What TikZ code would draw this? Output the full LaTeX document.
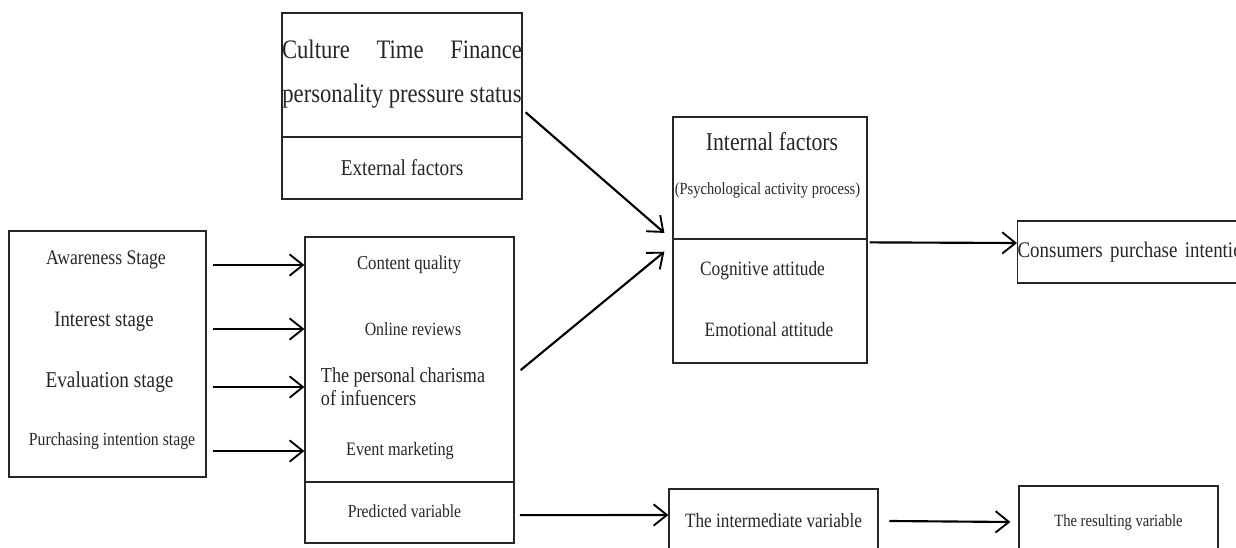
\documentclass[tikz,border=0pt]{standalone}
\usepackage{fontspec}
\setmainfont[FakeStretch=0.85]{Liberation Serif}
\usetikzlibrary{arrows.meta}

\begin{document}
\begin{tikzpicture}[
    x=0.75pt, y=-0.75pt,
    box/.style={draw=black!85, line width=0.9pt, inner sep=0pt},
    lbl/.style={inner sep=0pt, text=black!85},
    arr/.style={line width=1.6pt, -{Straight Barb[length=10pt,width=16pt,line width=1.4pt]}},
]
    \useasboundingbox (0,0) rectangle (1236,548);
    \clip (0,0) rectangle (1236,548);

    % external factors
    \node[box, minimum width=180pt, minimum height=93pt] (ext) at (402,75) {};
    \node[box, minimum width=180pt, minimum height=46.5pt, font=\fontsize{17}{20}\selectfont, text=black!85] (extname) at (402,168) {External factors};
    \node[lbl, align=center, font=\fontsize{20}{33}\selectfont] (extitems) at (402,74)
        {\makebox[180pt]{Culture\hfill Time\hfill Finance}\\personality pressure status};

    % stages
    \node[box, minimum width=147.75pt, minimum height=184.5pt] (stages) at (107.5,354) {};
    \node[lbl, font=\fontsize{15.6}{18}\selectfont] (aware) at (106,260) {Awareness Stage};
    \node[lbl, font=\fontsize{16.5}{19}\selectfont] (interest) at (104,322) {Interest stage};
    \node[lbl, font=\fontsize{17}{20}\selectfont] (evalu) at (109.5,382) {Evaluation stage};
    \node[lbl, font=\fontsize{13.9}{16}\selectfont] (purch) at (112,441) {Purchasing intention stage};

    % predicted variable
    \node[box, minimum width=156.75pt, minimum height=183.75pt] (mid) at (409.5,359.5) {};
    \node[box, minimum width=156.75pt, minimum height=45.75pt] (midname) at (409.5,512.5) {};
    \node[lbl, font=\fontsize{14.8}{17}\selectfont] (cq) at (409,265) {Content quality};
    \node[lbl, font=\fontsize{14}{16}\selectfont] (orev) at (413,329) {Online reviews};
    \node[lbl, align=left, font=\fontsize{16}{17.25}\selectfont] (charm) at (403,387) {The personal charisma\\ of infuencers};
    \node[lbl, font=\fontsize{14.3}{17}\selectfont] (event) at (400,451) {Event marketing};
    \node[lbl, font=\fontsize{13.8}{16}\selectfont] (pred) at (404.5,511) {Predicted variable};

    % internal factors
    \node[box, minimum width=145.5pt, minimum height=91.5pt] (intl) at (770,178) {};
    \node[box, minimum width=145.5pt, minimum height=93pt] (intlbot) at (770,301) {};
    \node[lbl, font=\fontsize{19.2}{22}\selectfont] (intname) at (772,142) {Internal factors};
    \node[lbl, font=\fontsize{12.8}{15}\selectfont] (psych) at (767.5,190) {(Psychological activity process)};
    \node[lbl, font=\fontsize{15.3}{18}\selectfont] (cog) at (762.5,271) {Cognitive attitude};
    \node[lbl, font=\fontsize{15.3}{18}\selectfont] (emo) at (769,330) {Emotional attitude};

    % results
    \node[box, anchor=west, text width=182pt, align=left, minimum height=46.5pt, text=black!85,
        font=\fontsize{16.7}{19}\selectfont] (cons) at (1017,252) {Consumers purchase intention};
    \node[box, minimum width=156.75pt, minimum height=48pt, text=black!85,
        font=\fontsize{15.2}{18}\selectfont] (inter) at (773.5,521) {The intermediate variable};
    \node[box, minimum width=149.25pt, minimum height=54pt, text=black!85,
        font=\fontsize{12.9}{15}\selectfont] (result) at (1118.5,522) {The resulting variable};

    % arrows
    \foreach \lab in {cq, orev, charm, event}
        \draw[arr] ([xshift=4.5pt]stages.east |- \lab) -- (mid.west |- \lab);
    \draw[arr] ([xshift=2.25pt,yshift=19pt]ext.south east) -- ([xshift=-6pt,yshift=5pt]intl.south west);
    \draw[arr] ([xshift=4.5pt,yshift=-8pt]mid.east) -- ([xshift=-6pt,yshift=-10pt]intlbot.north west);
    \draw[arr] ([xshift=1.5pt,yshift=-3pt]intlbot.north east) -- ([yshift=6.75pt]cons.west);
    \draw[arr] ([xshift=4pt,yshift=-2pt]midname.east) -- ([yshift=4.5pt]inter.west);
    \draw[arr] ([xshift=8pt]inter.east) -- ([xshift=-6pt]result.west);
\end{tikzpicture}
\end{document}
